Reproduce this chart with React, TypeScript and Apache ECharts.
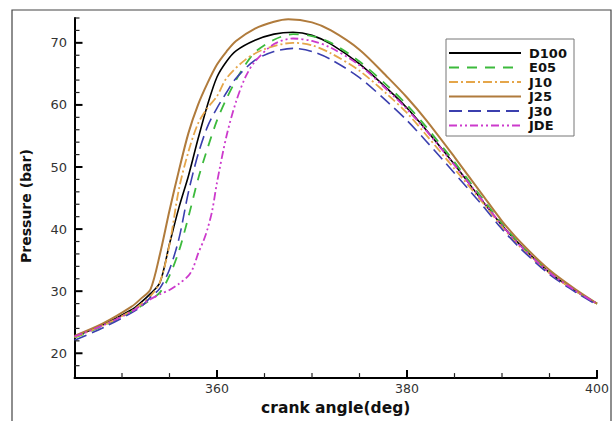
import React, { useEffect, useRef } from "react";
import * as echarts from "echarts";

const seriesNames = ["D100", "E05", "J10", "J25", "J30", "JDE"];
const seriesColors = ["#000000", "#3cba3c", "#e5a64a", "#b07b3c", "#3b3fae", "#cc3acc"];

const D100: [number, number][] = [
  [345, 22.7], [348, 24.6], [351, 27], [352, 28.2], [353, 29.6], [354, 31.4], [355, 37.6], [356, 43.5],
  [357, 48.6], [358, 54.5], [359, 60], [360, 64.5], [361, 67], [362, 68.7], [364, 70.4], [366, 71.4],
  [368, 71.7], [370, 71.2], [372, 69.8], [375, 66.6], [378, 62.5], [380, 59.5], [382, 56], [385, 50.4],
  [388, 44.4], [390, 40.6], [392, 37.3], [395, 33], [398, 29.8], [400, 28],
];
const E05: [number, number][] = [
  [345, 22.5], [348, 24.4], [351, 26.7], [352, 27.6], [353, 28.6], [354, 29.8], [355, 32.5], [356, 36.5],
  [357, 42], [358, 48], [359, 53], [360, 57.5], [361, 61], [362, 64], [363, 66.5], [364, 68.5],
  [366, 70.5], [368, 71.4], [370, 71.1], [372, 70], [375, 67], [378, 63], [380, 60], [382, 56.5],
  [385, 50.8], [388, 44.8], [390, 40.9], [392, 37.4], [395, 33.2], [398, 29.8], [400, 28],
];
const J10: [number, number][] = [
  [345, 22.6], [348, 24.5], [351, 26.8], [352, 27.9], [353, 29.2], [354, 31.5], [355, 37.5], [356, 46.5],
  [357, 52.5], [358, 57], [359, 59.5], [360, 61.4], [361, 64.3], [363, 67.3], [365, 69], [368, 70],
  [370, 69.6], [372, 68.3], [375, 65.5], [378, 61.6], [380, 58.7], [382, 55.2], [385, 49.7], [388, 44.2],
  [390, 40.4], [392, 37], [395, 32.9], [398, 29.8], [400, 28],
];
const J25: [number, number][] = [
  [345, 22.8], [348, 24.8], [351, 27.5], [352, 28.8], [353, 30.3], [354, 36], [355, 43], [356, 49.5],
  [357, 55.5], [358, 60], [359, 63.5], [360, 66.5], [361, 68.6], [362, 70.3], [364, 72.3], [366, 73.4],
  [367.5, 73.8], [370, 73.3], [372, 72], [375, 68.9], [378, 64.4], [380, 61.2], [382, 57.6], [385, 51.6],
  [388, 45.4], [390, 41.3], [392, 37.8], [395, 33.4], [398, 30], [400, 28],
];
const J30: [number, number][] = [
  [345, 22.1], [348, 24.1], [351, 26.5], [352, 27.5], [353, 29], [354, 30.5], [355, 33.5], [356, 38.5],
  [357, 46], [358, 52], [359, 56.5], [360, 59.5], [361, 62], [362, 64.3], [364, 67.2], [366, 68.6],
  [368, 69.1], [370, 68.6], [372, 67.3], [375, 64.4], [378, 60.4], [380, 57.5], [382, 54.2], [385, 49],
  [388, 43.7], [390, 40], [392, 36.8], [395, 32.7], [398, 29.6], [400, 27.8],
];
const JDE: [number, number][] = [
  [345, 22.7], [348, 24.5], [351, 26.7], [352, 27.7], [353, 28.7], [354, 29.5], [355, 30.2], [356, 31.2],
  [357, 32.5], [357.5, 33.8], [358, 36], [358.6, 38.2], [359, 40], [359.5, 43], [360, 47.5], [361, 55],
  [362, 60.5], [363, 64.5], [364, 67], [366, 69.8], [368, 70.7], [370, 70.3], [372, 69.2], [375, 66.4],
  [378, 62.3], [380, 59.3], [382, 55.9], [385, 50.3], [388, 44.5], [390, 40.6], [392, 37.2], [395, 33],
  [398, 29.8], [400, 28],
];

const xMajorTicks = [360, 380, 400];
const xMinorTicks = [350, 355, 365, 370, 375, 385, 390, 395];
const yMajorTicks = [20, 30, 40, 50, 60, 70];
const yMinorTicks = [18, 22, 24, 26, 28, 32, 34, 36, 38, 42, 44, 46, 48, 52, 54, 56, 58, 62, 64, 66, 68, 72, 74];

const X_MIN = 345;
const X_MAX = 400;
const Y_MIN = 16;
const Y_MAX = 74;

const allData = [D100, E05, J10, J25, J30, JDE];
const dashTypes: any[] = ["solid", [10, 8], [9, 3, 2, 3], "solid", [13, 6], [8, 3, 2, 3, 2, 3]];
const widths = [1.6, 1.8, 1.8, 2, 1.6, 1.8];

const W = 613;
const H = 421;
const GRID = { left: 74.5, right: 16, top: 18, bottom: 32.5 };

export default function App() {
  const ref = useRef<HTMLDivElement>(null);
  useEffect(() => {
    if (!ref.current) return;
    const chart = echarts.init(ref.current, undefined, { renderer: "svg" });
    const font = "'DejaVu Sans', Verdana, sans-serif";

    const legendX = 446;
    const legendY = 39;
    const rowGap = 14.5;
    const legendGraphics: any[] = [
      {
        type: "rect",
        shape: { x: legendX, y: legendY, width: 128, height: 97 },
        style: { fill: "#fff", stroke: "#777", lineWidth: 1 },
        z: 100,
      },
    ];
    seriesNames.forEach((name, i) => {
      const y = legendY + 14 + i * rowGap;
      const dt = dashTypes[i];
      legendGraphics.push({
        type: "line",
        shape: { x1: legendX + 3, y1: y, x2: legendX + 75, y2: y },
        style: {
          stroke: seriesColors[i],
          lineWidth: widths[i] + 0.2,
          lineDash: Array.isArray(dt) ? dt : null,
        },
        z: 101,
      });
      legendGraphics.push({
        type: "text",
        x: legendX + 83,
        y,
        style: {
          text: name,
          fill: "#111",
          font: `bold 13px ${font}`,
          verticalAlign: "middle",
          align: "left",
        },
        z: 101,
      });
    });

    const toPx = (v: [number, number]): number[] => {
      let p: any = null;
      try {
        p = chart.convertToPixel({ seriesIndex: 0 }, v);
      } catch (e) {
        p = null;
      }
      if (!p || !isFinite(p[0]) || !isFinite(p[1])) {
        const gw = W - GRID.left - GRID.right;
        const gh = H - GRID.top - GRID.bottom;
        p = [
          GRID.left + ((v[0] - X_MIN) / (X_MAX - X_MIN)) * gw,
          H - GRID.bottom - ((v[1] - Y_MIN) / (Y_MAX - Y_MIN)) * gh,
        ];
      }
      return p;
    };

    const frame = {
      type: "rect",
      shape: { x: 12, y: 10, width: 599, height: 430 },
      style: { fill: "none", stroke: "#444", lineWidth: 1.2 },
      silent: true,
      z: -10,
    };

    chart.setOption({
      animation: false,
      backgroundColor: "#ffffff",
      grid: GRID,
      xAxis: {
        type: "value",
        min: X_MIN,
        max: X_MAX,
        interval: 5,
        name: "crank angle(deg)",
        nameLocation: "middle",
        nameGap: 17,
        nameTextStyle: { fontFamily: font, fontWeight: "bold", fontSize: 15.5, color: "#111" },
        axisLine: { show: true, onZero: false, lineStyle: { color: "#000", width: 2 } },
        axisTick: { show: false },
        axisLabel: {
          fontFamily: font,
          fontSize: 12.5,
          color: "#333",
          margin: 4,
          formatter: (v: number) => (xMajorTicks.indexOf(v) >= 0 ? String(v) : ""),
        },
        splitLine: { show: false },
      },
      yAxis: {
        type: "value",
        min: Y_MIN,
        max: Y_MAX,
        interval: 2,
        name: "Pressure (bar)",
        nameLocation: "middle",
        nameGap: 42,
        nameTextStyle: { fontFamily: font, fontWeight: "bold", fontSize: 14, color: "#111", padding: [0, 16, 0, 0] },
        axisLine: { show: true, onZero: false, lineStyle: { color: "#000", width: 2 } },
        axisTick: { show: false },
        axisLabel: {
          fontFamily: font,
          fontSize: 13,
          color: "#333",
          margin: 7.5,
          formatter: (v: number) => (yMajorTicks.indexOf(v) >= 0 ? String(v) : ""),
        },
        splitLine: { show: false },
      },
      graphic: [frame, ...legendGraphics],
      series: seriesNames.map((name, i) => ({
        name,
        type: "line",
        data: allData[i],
        smooth: 0.3,
        symbol: "none",
        showSymbol: false,
        color: seriesColors[i],
        lineStyle: { color: seriesColors[i], width: widths[i], type: dashTypes[i] },
      })),
    });

    const tickEls: any[] = [];
    const addX = (v: number, major: boolean) => {
      const p = toPx([v, Y_MIN]);
      const len = major ? 8 : 5;
      tickEls.push({
        type: "line",
        silent: true,
        z: 50,
        shape: { x1: p[0], y1: p[1], x2: p[0], y2: p[1] - len },
        style: { stroke: major ? "#000" : "#222", lineWidth: major ? 2 : 1.2 },
      });
    };
    const addY = (v: number, major: boolean) => {
      const p = toPx([X_MIN, v]);
      const len = major ? 8 : 5;
      tickEls.push({
        type: "line",
        silent: true,
        z: 50,
        shape: { x1: p[0], y1: p[1], x2: p[0] + len, y2: p[1] },
        style: { stroke: major ? "#000" : "#222", lineWidth: major ? 2 : 1.2 },
      });
    };
    xMajorTicks.forEach((v) => addX(v, true));
    xMinorTicks.forEach((v) => addX(v, false));
    yMajorTicks.forEach((v) => addY(v, true));
    yMinorTicks.forEach((v) => addY(v, false));

    chart.setOption({ graphic: [frame, ...legendGraphics, ...tickEls] }, { replaceMerge: ["graphic"] });

    return () => chart.dispose();
  }, []);
  return (
    <div
      ref={ref}
      style={{ position: "fixed", left: 0, top: 0, width: W, height: H, background: "#fff" }}
    />
  );
}
